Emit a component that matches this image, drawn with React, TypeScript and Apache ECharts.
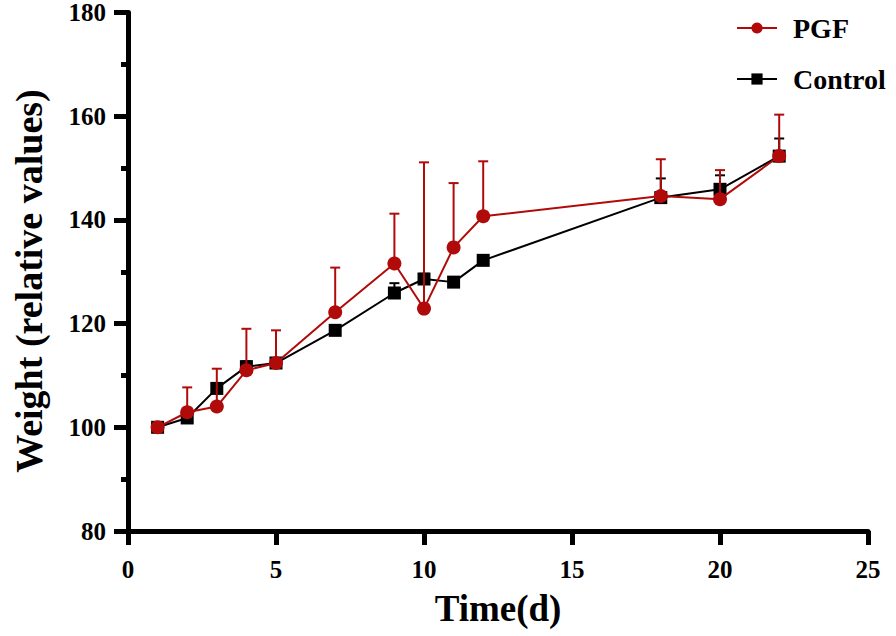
import React, { useEffect, useRef } from "react";
import * as echarts from "echarts";

const days = [1, 2, 3, 4, 5, 7, 9, 10, 11, 12, 18, 20, 22];
const pgfMean = [100, 102.9, 104.0, 111.0, 112.4, 122.2, 131.6, 122.9, 134.7, 140.7, 144.6, 144.0, 152.3];
const pgfSD = [0, 4.8, 7.3, 8.0, 6.3, 8.6, 9.6, 28.2, 12.4, 10.6, 7.1, 5.6, 8.0];
const ctrlMean = [100, 101.8, 107.5, 111.7, 112.4, 118.7, 125.9, 128.6, 128.0, 132.2, 144.3, 145.9, 152.3];
const ctrlSD = [0, 0.8, 1.0, 1.0, 0.8, 1.0, 1.9, 1.0, 0.8, 1.0, 3.7, 2.7, 3.4];

const RED = "#B00A0A";
const BLACK = "#000000";
const FONT = "'Liberation Serif', 'Times New Roman', serif";

function errorSeries(name: string, mean: number[], sd: number[], color: string, z: number) {
  return {
    name: name + " SD",
    type: "custom",
    z,
    silent: true,
    data: days.map((d, i) => [d, mean[i], mean[i] + sd[i]]),
    encode: { x: 0, y: [1, 2] },
    renderItem: (params: any, api: any) => {
      const x = api.value(0);
      const p0 = api.coord([x, api.value(1)]);
      const p1 = api.coord([x, api.value(2)]);
      const style = { stroke: color, lineWidth: 2 };
      return {
        type: "group",
        children: [
          { type: "line", shape: { x1: p0[0], y1: p0[1], x2: p1[0], y2: p1[1] }, style },
          { type: "line", shape: { x1: p1[0] - 5, y1: p1[1], x2: p1[0] + 5, y2: p1[1] }, style },
        ],
      };
    },
  };
}

export default function App() {
  const ref = useRef<HTMLDivElement>(null);
  useEffect(() => {
    const chart = echarts.init(ref.current!, null, { renderer: "svg" });
    const axisCommon = {
      axisLine: { show: true, lineStyle: { color: BLACK, width: 5 } },
      axisTick: { show: true, length: 14, lineStyle: { color: BLACK, width: 5 } },
      splitLine: { show: false },
      axisLabel: { color: BLACK, fontFamily: FONT, fontWeight: "bold", fontSize: 25 },
      nameTextStyle: { color: BLACK, fontFamily: FONT, fontWeight: "bold", fontSize: 37 },
    };
    chart.setOption({
      animation: false,
      backgroundColor: "#ffffff",
      grid: { left: 128, right: 28, top: 12, bottom: 105, containLabel: false },
      graphic: [
        {
          type: "text",
          x: 29,
          y: 281,
          rotation: Math.PI / 2,
          style: {
            text: "Weight (relative values)",
            fill: BLACK,
            fontFamily: FONT,
            fontWeight: "bold",
            fontSize: 38,
            align: "center",
            verticalAlign: "middle",
          },
        },
      ],
      legend: {
        data: ["PGF", "Control"],
        orient: "vertical",
        left: 731,
        top: 9,
        itemWidth: 40,
        itemHeight: 14,
        itemGap: 23,
        textStyle: { color: BLACK, fontFamily: FONT, fontWeight: "bold", fontSize: 28, lineHeight: 28, padding: [0, 0, 0, 11] },
      },
      xAxis: {
        ...axisCommon,
        type: "value",
        min: 0,
        max: 25,
        interval: 5,
        name: "Time(d)",
        nameLocation: "middle",
        nameGap: 59,
        axisLabel: { ...axisCommon.axisLabel, margin: 26 },
      },
      yAxis: {
        ...axisCommon,
        type: "value",
        min: 80,
        max: 180,
        interval: 20,
        minorTick: { show: true, splitNumber: 2, length: 7, lineStyle: { color: BLACK, width: 5 } },
        axisLabel: { ...axisCommon.axisLabel, margin: 22 },
      },
      series: [
        errorSeries("Control", ctrlMean, ctrlSD, BLACK, 2),
        {
          name: "Control",
          type: "line",
          z: 3,
          data: days.map((d, i) => [d, ctrlMean[i]]),
          symbol: "rect",
          symbolSize: 13,
          color: BLACK,
          lineStyle: { color: BLACK, width: 2 },
          itemStyle: { color: BLACK },
        },
        errorSeries("PGF", pgfMean, pgfSD, RED, 4),
        {
          name: "PGF",
          type: "line",
          z: 5,
          data: days.map((d, i) => [d, pgfMean[i]]),
          symbol: "circle",
          symbolSize: 14,
          color: RED,
          lineStyle: { color: RED, width: 2 },
          itemStyle: { color: RED },
        },
      ],
    });
    return () => chart.dispose();
  }, []);
  return (
    <div
      ref={ref}
      style={{ position: "absolute", left: 0, top: 0, width: 896, height: 636, background: "#fff" }}
    />
  );
}
